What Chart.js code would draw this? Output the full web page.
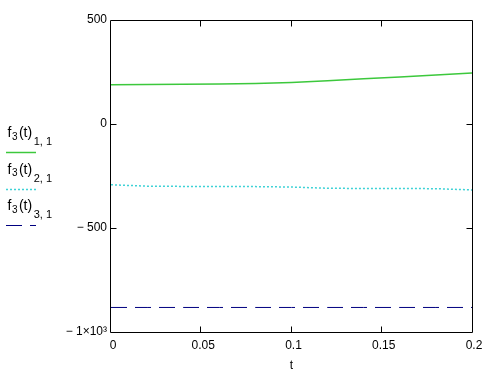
<!DOCTYPE html>
<html>
<head>
<meta charset="utf-8">
<script src="https://cdn.jsdelivr.net/npm/chart.js@4.4.0/dist/chart.umd.min.js"></script>
<style>
  body { margin: 0; background: #fff; }
  canvas { display: block; }
</style>
</head>
<body>
<canvas id="plot" width="499" height="374"></canvas>
<script>
// values
const tValues = [0, 0.02, 0.04, 0.06, 0.08, 0.1, 0.12, 0.14, 0.16, 0.18, 0.2];
const row1 = [189, 190, 191, 192, 195, 200, 208, 217, 226, 236, 245];
const row2 = [-292, -299, -300, -300, -301, -303, -309, -310, -310, -311, -317];
const row3 = [-882, -882, -882, -882, -882, -882, -882, -882, -882, -882, -882];

const xTickLabels = { 0: '0', 0.05: '0.05', 0.1: '0.1', 0.15: '0.15', 0.2: '0.2' };
const yTickLabels = { 500: '500', 0: '0', '-500': '\u2212 500', '-1000': '\u2212 1\u00d710\u00b3' };
const legendSubs = ['1, 1', '2, 1', '3, 1'];

const FONT = "'Liberation Sans', Arial, sans-serif";

function pts(ys) {
  return tValues.map((t, i) => ({ x: t, y: ys[i] }));
}

// frame + tick marks pointing inward on all four sides
const framePlugin = {
  id: 'frame',
  afterDraw(chart) {
    const ctx = chart.ctx;
    const a = chart.chartArea;
    const xs = chart.scales.x, ys = chart.scales.y;
    const L = Math.round(a.left) - 0.5, R = Math.round(a.right) + 0.5;
    const T = Math.round(a.top) + 0.5, B = Math.round(a.bottom) + 0.5;
    ctx.save();
    ctx.strokeStyle = '#000';
    ctx.lineWidth = 1;
    ctx.beginPath();
    ctx.moveTo(L, T); ctx.lineTo(R, T); ctx.lineTo(R, B); ctx.lineTo(L, B); ctx.closePath();
    xs.ticks.forEach(tk => {
      if (tk.value <= xs.min + 1e-9 || tk.value >= xs.max - 1e-9) return;
      const px = Math.round(xs.getPixelForValue(tk.value)) - 0.5;
      ctx.moveTo(px, B); ctx.lineTo(px, B - 6);
      ctx.moveTo(px, T); ctx.lineTo(px, T + 6);
    });
    ys.ticks.forEach(tk => {
      if (tk.value <= ys.min || tk.value >= ys.max) return;
      const py = Math.round(ys.getPixelForValue(tk.value)) + 0.5;
      ctx.moveTo(L, py); ctx.lineTo(L + 6, py);
      ctx.moveTo(R, py); ctx.lineTo(R - 6, py);
    });
    ctx.stroke();
    ctx.restore();
  }
};

// Mathcad style legend on the left: f3(t) with subscripts and a line sample
const sideLegend = {
  id: 'sideLegend',
  afterDraw(chart) {
    const ctx = chart.ctx;
    ctx.save();
    ctx.fillStyle = '#000';
    ctx.textBaseline = 'alphabetic';
    chart.data.datasets.forEach((ds, i) => {
      const b = 137 + i * 36.5;
      let x = 7.5;
      ctx.font = '14px ' + FONT;
      ctx.fillText('f', x, b);
      x += ctx.measureText('f').width + 0.5;
      ctx.font = '10px ' + FONT;
      ctx.fillText('3', x, b + 2.5);
      x += ctx.measureText('3').width + 1.5;
      ctx.font = '14px ' + FONT;
      ctx.fillText('(t)', x, b);
      x += ctx.measureText('(t)').width + 1.5;
      ctx.font = '11px ' + FONT;
      ctx.fillText(legendSubs[i], x, b + 8);

      const ly = Math.round(b + 15) + 0.5;
      ctx.beginPath();
      ctx.strokeStyle = ds.borderColor;
      ctx.lineWidth = ds.borderWidth;
      ctx.setLineDash(ds.borderDash || []);
      ctx.moveTo(6, ly);
      ctx.lineTo(36, ly);
      ctx.stroke();
      ctx.setLineDash([]);
    });
    ctx.restore();
  }
};

new Chart(document.getElementById('plot'), {
  type: 'line',
  data: {
    datasets: [
      { data: pts(row1), borderColor: '#3cc83c', borderWidth: 1.5, pointRadius: 0, tension: 0 },
      { data: pts(row2), borderColor: '#3ed2d6', borderWidth: 1.5, borderDash: [2, 2], pointRadius: 0, tension: 0 },
      { data: pts(row3), borderColor: '#000080', borderWidth: 1, borderDash: [16, 8], pointRadius: 0, tension: 0 }
    ]
  },
  options: {
    responsive: false,
    animation: false,
    devicePixelRatio: 1,
    layout: { padding: { top: 20, right: 27, left: 0, bottom: 0 } },
    plugins: { legend: { display: false }, tooltip: { enabled: false } },
    scales: {
      x: {
        type: 'linear',
        min: 0, max: 0.2,
        afterFit(s) { s.height = 42; },
        afterBuildTicks(s) { s.ticks = Object.keys(xTickLabels).map(v => ({ value: +v })); },
        ticks: {
          callback: v => xTickLabels[+v.toFixed(2)],
          color: '#000', font: { family: FONT, size: 12 }, padding: 6,
          maxRotation: 0, autoSkip: false, labelOffset: 2
        },
        grid: { display: false, drawTicks: false },
        border: { display: false },
        title: { display: true, text: 't', color: '#000', font: { family: FONT, size: 12 }, padding: { top: 0, bottom: 1 } }
      },
      y: {
        min: -1000, max: 500,
        afterFit(s) { s.width = 111; },
        afterBuildTicks(s) { s.ticks = [-1000, -500, 0, 500].map(v => ({ value: v })); },
        ticks: {
          callback: v => yTickLabels[v],
          color: '#000', font: { family: FONT, size: 12 }, padding: 4, autoSkip: false
        },
        grid: { display: false, drawTicks: false },
        border: { display: false }
      }
    }
  },
  plugins: [framePlugin, sideLegend]
});
</script>
</body>
</html>
